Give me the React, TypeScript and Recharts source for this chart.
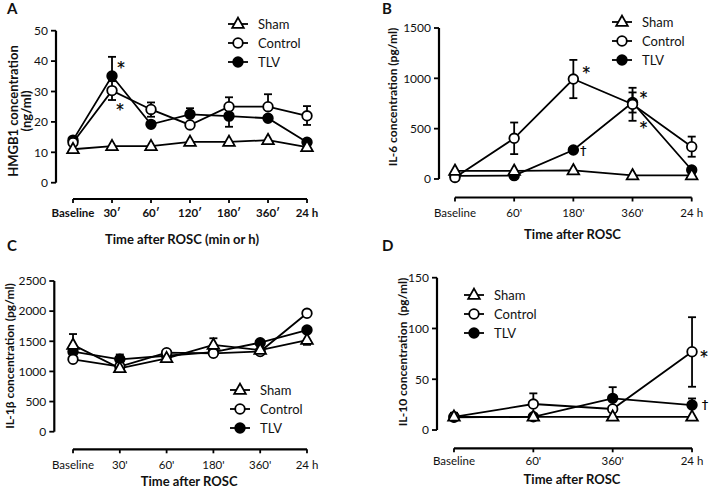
import React from "react";
import {
  LineChart,
  Line,
  XAxis,
  YAxis,
  ErrorBar,
  ReferenceLine,
  Legend,
  LabelList,
  Label,
} from "recharts";

const FONT = "Lato, 'Open Sans', sans-serif";
const NOTE_FONT = "'DejaVu Sans', 'Liberation Sans', sans-serif";

// A: HMGB1
const hmgbTimes = ["Baseline", "30\u2032", "60\u2032", "120\u2032", "180\u2032", "360\u2032", "24 h"];
const hmgbSham = [11, 12, 12, 13.4, 13.4, 14, 11.7];
const hmgbControl = [13.2, 30.3, 24.1, 19, 25, 25, 22];
const hmgbControlErr = [[0, 0], [3.1, 3.1], [2.4, 2.3], [0, 0], [0, 3.1], [0, 4.1], [3, 3.2]];
const hmgbTlv = [14, 35.1, 19.2, 22.5, 21.9, 21.2, 13.3];
const hmgbTlvErr = [[0, 0], [0, 6.3], [0, 0], [0, 2], [3.5, 0], [0, 0], [0, 0]];
const hmgbControlNote = ["", "*", "", "", "", "", ""];
const hmgbTlvNote = ["", "*", "", "", "", "", ""];

// B: IL-6
const il6Times = ["Baseline", "60'", "180'", "360'", "24 h"];
const il6Sham = [80, 80, 85, 35, 35];
const il6Control = [15, 404, 993, 742, 321];
const il6ControlErr = [[0, 0], [157, 157], [190, 190], [164, 164], [100, 100]];
const il6Tlv = [30, 33, 288, 760, 89];
const il6TlvErr = [[0, 0], [0, 0], [0, 0], [100, 100], [0, 0]];
const il6ControlNote = ["", "", "*", "*", ""];
const il6TlvNote = ["", "", "\u2020", "*", ""];

// C: IL-1beta
const il1Times = ["Baseline", "30'", "60'", "180'", "360'", "24 h"];
const il1Sham = [1440, 1052, 1218, 1440, 1355, 1521];
const il1ShamErr = [[0, 180], [0, 0], [0, 0], [0, 110], [0, 0], [80, 0]];
const il1Control = [1201, 1080, 1311, 1300, 1330, 1964];
const il1Tlv = [1327, 1201, 1260, 1320, 1477, 1687];
const il1TlvErr = [[0, 0], [0, 80], [0, 0], [0, 0], [0, 0], [0, 0]];

// D: IL-10
const il10Times = ["Baseline", "60'", "360'", "24 h"];
const il10Sham = [13, 13, 13, 13];
const il10Control = [13, 25.6, 20.7, 77.1];
const il10ControlErr = [[0, 4], [0, 10.5], [0, 0], [34.5, 34]];
const il10Tlv = [12.5, 13, 31.2, 24.6];
const il10TlvErr = [[0, 0], [0, 0], [0, 11], [0, 6.5]];
const il10ControlNote = ["", "", "", "*"];
const il10TlvNote = ["", "", "", "\u2020"];

const legendItems = [
  { name: "Sham", shape: "triangle" },
  { name: "Control", shape: "open" },
  { name: "TLV", shape: "filled" },
];

const SW = 1.8;

function Marker({ shape, cx, cy }: { shape: string; cx: number; cy: number }) {
  if (shape === "triangle") {
    return (
      <polygon
        points={`${cx},${cy - 6.4} ${cx + 5.8},${cy + 3.9} ${cx - 5.8},${cy + 3.9}`}
        fill="#fff"
        stroke="#000"
        strokeWidth={SW}
      />
    );
  }
  return (
    <circle
      cx={cx}
      cy={cy}
      r={4.8}
      fill={shape === "filled" ? "#000" : "#fff"}
      stroke="#000"
      strokeWidth={SW}
    />
  );
}

const dotFor = (shape: string) => (p: any) =>
  <Marker key={`d${p.index}`} shape={shape} cx={p.cx} cy={p.cy} />;

function LegendBox() {
  return (
    <svg width={110} height={58}>
      {legendItems.map((it, i) => {
        const y = 9 + i * 19;
        return (
          <g key={it.name}>
            <line x1={1} x2={21} y1={y} y2={y} stroke="#000" strokeWidth={SW} />
            <Marker shape={it.shape} cx={11} cy={y} />
            <text x={31} y={y} dominantBaseline="central" fontSize={13} fontFamily={FONT} fill="#111">
              {it.name}
            </text>
          </g>
        );
      })}
    </svg>
  );
}

const noteContent = (dx: number, dy: number) => (p: any) => {
  if (!p.value) return null;
  const isStar = p.value === "*";
  return (
    <text
      x={p.x + dx}
      y={p.y + dy + (isStar ? 4 : 0)}
      textAnchor="middle"
      dominantBaseline="central"
      fontSize={isStar ? 15 : 12}
      fontFamily={NOTE_FONT}
      fill="#000"
      stroke="#000"
      strokeWidth={0.25}
    >
      {p.value}
    </text>
  );
};

type Panel = {
  left: number;
  top: number;
  width: number;
  height: number;
  plotLeft: number;
  plotTop: number;
  plotRight: number;
  plotBottom: number;
  xDomain: [number, number];
  yDomain: [number, number];
  yTicks: number[];
  times: string[];
  rows: any[];
  xBold: boolean;
  tickGap: number;
  title: string;
  titleDx: number;
  titleDy: number;
  yLabel: string[];
  yLabelX: number[];
  yLabelY: number;
  yLabelSize: number;
  legendLeft: number;
  legendTop: number;
  shamErr: boolean;
  controlErr: boolean;
  tlvErr: boolean;
  notes: { control: [number, number]; tlv: [number, number] } | null;
};

function build(times: string[], sham: number[], control: number[], tlv: number[], extra: any) {
  return times.map((_, i) => ({
    t: i,
    sham: sham[i],
    control: control[i],
    tlv: tlv[i],
    shamErr: extra.shamErr ? extra.shamErr[i] : [0, 0],
    controlErr: extra.controlErr ? extra.controlErr[i] : [0, 0],
    tlvErr: extra.tlvErr ? extra.tlvErr[i] : [0, 0],
    controlNote: extra.controlNote ? extra.controlNote[i] : "",
    tlvNote: extra.tlvNote ? extra.tlvNote[i] : "",
  }));
}

const panels: Panel[] = [
  {
    left: 0, top: 0, width: 354, height: 252,
    plotLeft: 56, plotTop: 30.7, plotRight: 320, plotBottom: 199,
    xDomain: [-0.436, 6.333], yDomain: [-5.36, 50], yTicks: [0, 10, 20, 30, 40, 50],
    times: hmgbTimes,
    rows: build(hmgbTimes, hmgbSham, hmgbControl, hmgbTlv, {
      controlErr: hmgbControlErr, tlvErr: hmgbTlvErr,
      controlNote: hmgbControlNote, tlvNote: hmgbTlvNote,
    }),
    xBold: true, tickGap: 6,
    title: "Time after ROSC (min or h)", titleDx: -6, titleDy: 40,
    yLabel: ["HMGB1 concentration", "(ng/ml)"], yLabelX: [13, 26], yLabelY: 111, yLabelSize: 13,
    legendLeft: 227, legendTop: 15,
    shamErr: false, controlErr: true, tlvErr: true,
    notes: { control: [8, 15], tlv: [9, -12] },
  },
  {
    left: 355, top: 0, width: 354, height: 252,
    plotLeft: 84, plotTop: 28, plotRight: 345, plotBottom: 197.5,
    xDomain: [-0.27, 4.14], yDomain: [-184, 1500], yTicks: [0, 500, 1000, 1500],
    times: il6Times,
    rows: build(il6Times, il6Sham, il6Control, il6Tlv, {
      controlErr: il6ControlErr, tlvErr: il6TlvErr,
      controlNote: il6ControlNote, tlvNote: il6TlvNote,
    }),
    xBold: false, tickGap: 7,
    title: "Time after ROSC", titleDx: 3, titleDy: 36,
    yLabel: ["IL-6 concentration (pg/ml)"], yLabelX: [37], yLabelY: 97, yLabelSize: 12,
    legendLeft: 256, legendTop: 13,
    shamErr: false, controlErr: true, tlvErr: true,
    notes: null,
  },
  {
    left: 0, top: 245, width: 354, height: 244,
    plotLeft: 54.3, plotTop: 36, plotRight: 320, plotBottom: 204.3,
    xDomain: [-0.4, 5.278], yDomain: [-292, 2500], yTicks: [0, 500, 1000, 1500, 2000, 2500],
    times: il1Times,
    rows: build(il1Times, il1Sham, il1Control, il1Tlv, { shamErr: il1ShamErr, tlvErr: il1TlvErr }),
    xBold: false, tickGap: 8,
    title: "Time after ROSC", titleDx: 2, titleDy: 32,
    yLabel: ["IL-1\u03b2 concentration (pg/ml)"], yLabelX: [9], yLabelY: 111, yLabelSize: 12,
    legendLeft: 229, legendTop: 136,
    shamErr: true, controlErr: false, tlvErr: true,
    notes: null,
  },
  {
    left: 355, top: 245, width: 354, height: 244,
    plotLeft: 82, plotTop: 32.7, plotRight: 346, plotBottom: 203.3,
    xDomain: [-0.214, 3.113], yDomain: [-18, 150], yTicks: [0, 50, 100, 150],
    times: il10Times,
    rows: build(il10Times, il10Sham, il10Control, il10Tlv, {
      controlErr: il10ControlErr, tlvErr: il10TlvErr,
      controlNote: il10ControlNote, tlvNote: il10TlvNote,
    }),
    xBold: false, tickGap: 5,
    title: "Time after ROSC", titleDx: 3, titleDy: 31,
    yLabel: ["IL-10 concentration\u00a0\u00a0(pg/ml)"], yLabelX: [47], yLabelY: 107, yLabelSize: 12,
    legendLeft: 108, legendTop: 41,
    shamErr: false, controlErr: true, tlvErr: true,
    notes: { control: [12, 1], tlv: [13, 0] },
  },
];

// B has different offsets per point, so its notes are placed by index
const il6NoteOffsets: Record<string, [number, number][]> = {
  control: [[0, 0], [0, 0], [13, -10], [11, -10], [0, 0]],
  tlv: [[0, 0], [0, 0], [10, 1], [11, 22], [0, 0]],
};

const noteByIndex = (offs: [number, number][]) => (p: any) => {
  if (!p.value) return null;
  const [dx, dy] = offs[p.index] || [0, 0];
  return noteContent(dx, dy)(p);
};

function ChartPanel({ p, idx }: { p: Panel; idx: number }) {
  const last = p.times.length - 1;
  const yMin = p.yDomain[0];
  const xTickRender = (props: any) => (
    <text
      x={props.x}
      y={props.y}
      dy="0.71em"
      textAnchor="middle"
      fontSize={11.5}
      fontWeight={p.xBold ? 700 : 400}
      fontFamily={FONT}
      fill="#111"
    >
      {p.times[props.payload.value]}
    </text>
  );
  const titleContent = (props: any) => {
    const vb = props.viewBox || {};
    return (
      <text
        x={vb.x + vb.width / 2 + p.titleDx}
        y={vb.y + p.titleDy}
        textAnchor="middle"
        dominantBaseline="central"
        fontSize={13}
        fontWeight={700}
        fontFamily={FONT}
        fill="#111"
      >
        {p.title}
      </text>
    );
  };
  const yLabelContent = () => (
    <g>
      {p.yLabel.map((s, i) => (
        <text
          key={i}
          x={p.yLabelX[i]}
          y={p.yLabelY}
          transform={`rotate(-90 ${p.yLabelX[i]} ${p.yLabelY})`}
          textAnchor="middle"
          dominantBaseline="central"
          fontSize={p.yLabelSize}
          fontWeight={700}
          fontFamily={FONT}
          fill="#111"
        >
          {s}
        </text>
      ))}
    </g>
  );
  const ctlNote = idx === 1 ? noteByIndex(il6NoteOffsets.control) : p.notes ? noteContent(...p.notes.control) : null;
  const tlvNote = idx === 1 ? noteByIndex(il6NoteOffsets.tlv) : p.notes ? noteContent(...p.notes.tlv) : null;
  const errProps = { stroke: "#000", strokeWidth: SW, width: 4, direction: "y" as const };
  return (
    <div style={{ position: "absolute", left: p.left, top: p.top }}>
      <LineChart
        width={p.width}
        height={p.height}
        data={p.rows}
        margin={{ top: p.plotTop, right: p.width - p.plotRight, bottom: 0, left: 0 }}
      >
        <XAxis
          dataKey="t"
          type="number"
          domain={p.xDomain}
          allowDataOverflow
          ticks={p.times.map((_, i) => i)}
          interval={0}
          height={p.height - p.plotBottom}
          axisLine={false}
          tickLine={{ stroke: "#000", strokeWidth: SW }}
          tickSize={4}
          tickMargin={p.tickGap}
          tick={xTickRender}
        >
          <Label content={titleContent} />
        </XAxis>
        <YAxis
          type="number"
          domain={p.yDomain}
          allowDataOverflow
          ticks={p.yTicks}
          interval={0}
          width={p.plotLeft}
          axisLine={false}
          tickLine={{ stroke: "#000", strokeWidth: SW }}
          tickSize={5}
          tickMargin={3}
          tick={{ fontSize: 12, fontFamily: FONT, fill: "#111" }}
        >
          <Label content={yLabelContent} />
        </YAxis>
        <ReferenceLine
          segment={[{ x: p.xDomain[0], y: 0 }, { x: p.xDomain[0], y: p.yTicks[p.yTicks.length - 1] }]}
          stroke="#000"
          strokeWidth={2.2}
          ifOverflow="visible"
        />
        <ReferenceLine
          segment={[{ x: 0, y: yMin }, { x: last, y: yMin }]}
          stroke="#000"
          strokeWidth={2.2}
          ifOverflow="visible"
        />
        <Line
          dataKey="tlv"
          stroke="#000"
          strokeWidth={SW}
          dot={dotFor("filled")}
          activeDot={false}
          isAnimationActive={false}
        >
          {p.tlvErr && <ErrorBar dataKey="tlvErr" {...errProps} />}
          {tlvNote && <LabelList dataKey="tlvNote" content={tlvNote} />}
        </Line>
        <Line
          dataKey="control"
          stroke="#000"
          strokeWidth={SW}
          dot={dotFor("open")}
          activeDot={false}
          isAnimationActive={false}
        >
          {p.controlErr && <ErrorBar dataKey="controlErr" {...errProps} />}
          {ctlNote && <LabelList dataKey="controlNote" content={ctlNote} />}
        </Line>
        <Line
          dataKey="sham"
          stroke="#000"
          strokeWidth={SW}
          dot={dotFor("triangle")}
          activeDot={false}
          isAnimationActive={false}
        >
          {p.shamErr && <ErrorBar dataKey="shamErr" {...errProps} />}
        </Line>
        <Legend
          content={() => <LegendBox />}
          layout="vertical"
          align="center"
          verticalAlign="middle"
          wrapperStyle={{ left: p.legendLeft, top: p.legendTop, width: 110, height: 58 }}
        />
      </LineChart>
    </div>
  );
}

const letters = [
  { t: "A", x: 7, y: 0 },
  { t: "B", x: 382, y: 0 },
  { t: "C", x: 7, y: 237 },
  { t: "D", x: 382, y: 237 },
];

export default function App() {
  return (
    <div
      style={{
        position: "fixed",
        left: 0,
        top: 0,
        width: 709,
        height: 489,
        background: "#fff",
        fontFamily: FONT,
        overflow: "hidden",
      }}
    >
      {panels.map((p, i) => (
        <ChartPanel key={i} p={p} idx={i} />
      ))}
      {letters.map((l) => (
        <div
          key={l.t}
          style={{
            position: "absolute",
            left: l.x,
            top: l.y,
            fontSize: 15,
            fontWeight: 700,
            lineHeight: "16px",
            color: "#111",
          }}
        >
          {l.t}
        </div>
      ))}
    </div>
  );
}
